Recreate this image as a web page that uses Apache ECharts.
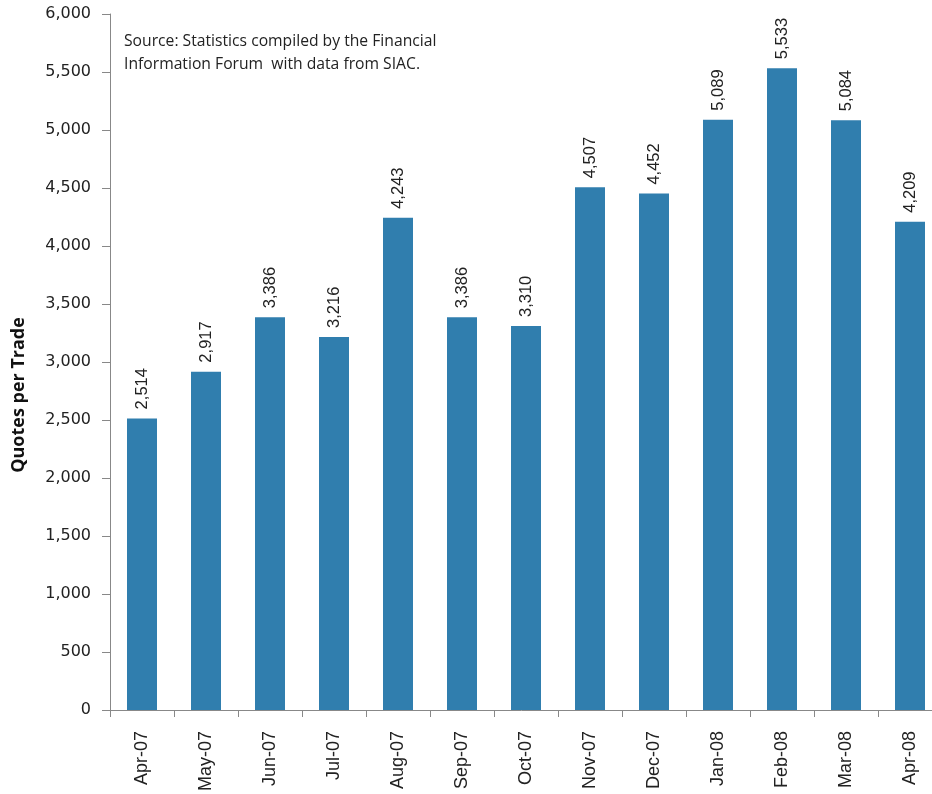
<!DOCTYPE html>
<html><head><meta charset="utf-8">
<script src="https://cdn.jsdelivr.net/npm/echarts@6/dist/echarts.min.js"></script>
<style>html,body{margin:0;padding:0;background:#fff}#c{width:932px;height:794px}</style>
</head><body><div id="c"></div>
<script>
const categories = ["Apr-07","May-07","Jun-07","Jul-07","Aug-07","Sep-07","Oct-07","Nov-07","Dec-07","Jan-08","Feb-08","Mar-08","Apr-08"];
const quotesPerTrade = [2514,2917,3386,3216,4243,3386,3310,4507,4452,5089,5533,5084,4209];
const yTicks = {min:0, max:6000, interval:500};
const sourceNote = "Source: Statistics compiled by the Financial\nInformation Forum  with data from SIAC.";
const yTitle = "Quotes per Trade";

const chart = echarts.init(document.getElementById('c'));
const fmt = v => v.toLocaleString('en-US');
chart.setOption({
  animation:false,
  grid:{left:110, width:832, top:14, height:696, containLabel:false, outerBoundsMode:'none'},
  graphic:[
    {type:'text', left:124, top:30, style:{text:sourceNote, font:'15.7px "Open Sans", sans-serif', fill:'#222', lineHeight:23}},
    {type:'text', x:19, y:395, rotation:Math.PI/2, style:{text:yTitle, font:'bold 18px "Open Sans", sans-serif', fill:'#111', align:'center', verticalAlign:'middle'}}
  ],
  xAxis:{type:'category', data:categories,
    axisLine:{lineStyle:{color:'#888', width:1}},
    axisTick:{show:true, alignWithLabel:false, length:7, lineStyle:{color:'#888'}},
    axisLabel:{rotate:90, fontSize:18, color:'#222', fontFamily:'"Liberation Sans", Arial, sans-serif', margin:21}},
  yAxis:{type:'value', min:yTicks.min, max:yTicks.max, interval:yTicks.interval,
    axisLine:{show:true, lineStyle:{color:'#888'}},
    axisTick:{show:true, length:8, lineStyle:{color:'#888'}},
    splitLine:{show:false},
    axisLabel:{formatter:fmt, fontSize:16, color:'#222', fontFamily:'"DejaVu Sans", sans-serif', margin:19}},
  series:[{type:'bar', data:quotesPerTrade, barWidth:30,
    itemStyle:{color:'#307EAE'},
    label:{show:true, position:'top', rotate:90, align:'left', verticalAlign:'middle', distance:9,
      formatter:p=>fmt(p.value), fontSize:16.5, color:'#222', fontFamily:'"Liberation Sans", Arial, sans-serif'}}]
});
</script></body></html>
